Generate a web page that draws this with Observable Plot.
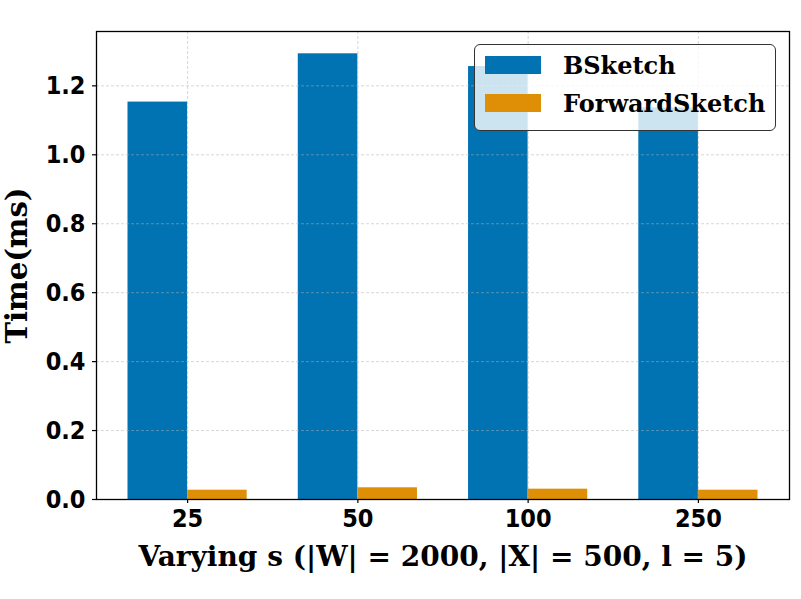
<!DOCTYPE html>
<html><head><meta charset="utf-8">
<script src="https://cdn.jsdelivr.net/npm/d3@7"></script>
<script src="https://cdn.jsdelivr.net/npm/@observablehq/plot@0.6"></script>
<style>
body{margin:0;background:#fff;}
#wrap{position:relative;width:801px;height:599px;}
.legend{position:absolute;left:474px;top:44px;width:302px;height:87px;box-sizing:border-box;border:1.3px solid #333;border-radius:6px;background:rgba(255,255,255,0.8);font-family:"DejaVu Serif",serif;font-weight:bold;font-size:24px;color:#000;}
.item{position:absolute;left:0;height:24px;}
.sw{position:absolute;left:10px;width:56px;height:18px;}
.lab{position:absolute;left:88px;white-space:nowrap;}
</style></head>
<body><div id="wrap"></div>
<script>
const categories = ["25", "50", "100", "250"];
const series = ["BSketch", "ForwardSketch"];
const bsketch = [1.153, 1.293, 1.256, 1.136];
const forwardSketch = [0.027, 0.034, 0.030, 0.027];
const colors = ["#0173b2", "#de8f05"];
const yTicks = [0, 0.2, 0.4, 0.6, 0.8, 1.0, 1.2];
const xLabel = "Varying s (|W| = 2000, |X| = 500, l = 5)";
const yLabel = "Time(ms)";

const barWidth = 0.35;
const data = [];
categories.forEach((c, i) => {
  data.push({i, c, s: series[0], v: bsketch[i], x1: i - barWidth, x2: i});
  data.push({i, c, s: series[1], v: forwardSketch[i], x1: i, x2: i + barWidth});
});
const idx = categories.map((c, i) => i);

const tickFont = {fontFamily: "'DejaVu Sans Condensed', 'DejaVu Sans', sans-serif", fontWeight: "bold", fontStretch: "condensed", fontSize: 25};

const plot = Plot.plot({
  width: 801, height: 599,
  marginLeft: 96, marginRight: 12, marginTop: 31, marginBottom: 100,
  x: {type: "linear", domain: [-0.535, 3.535]},
  y: {domain: [0, 1.3577]},
  color: {domain: series, range: colors},
  style: {background: "white", color: "black", overflow: "visible"},
  marks: [
    Plot.rectY(data, {x1: "x1", x2: "x2", y: "v", fill: "s"}),
    Plot.gridY(yTicks, {stroke: "#b0b0b0", strokeOpacity: 0.85, strokeDasharray: "3,2", strokeWidth: 0.6}),
    Plot.gridX(idx, {stroke: "#b0b0b0", strokeOpacity: 0.85, strokeDasharray: "3,2", strokeWidth: 0.6}),
    Plot.frame({stroke: "black", strokeWidth: 1.3}),
    Plot.axisX(idx, {tickFormat: i => categories[i], tickSize: 4, tickPadding: 6, label: null, ...tickFont, strokeWidth: 1.2}),
    Plot.axisY(yTicks, {tickFormat: d => d.toFixed(1), tickSize: 4, tickPadding: 7, label: null, ...tickFont, strokeWidth: 1.2}),
    Plot.text([xLabel], {frameAnchor: "bottom", textAnchor: "middle", lineAnchor: "bottom", dy: 66, fontFamily: "'DejaVu Serif', serif", fontWeight: "bold", fontSize: 28}),
    Plot.text([yLabel], {frameAnchor: "left", textAnchor: "middle", lineAnchor: "bottom", rotate: -90, dx: -70, fontFamily: "'DejaVu Serif', serif", fontWeight: "bold", fontSize: 29})
  ]
});
const wrap = document.getElementById("wrap");
wrap.appendChild(plot);

const leg = document.createElement("div");
leg.className = "legend";
series.forEach((s, k) => {
  const it = document.createElement("div");
  it.className = "item";
  it.style.top = (k === 0 ? 11 : 49) + "px";
  const sw = document.createElement("div");
  sw.className = "sw"; sw.style.background = colors[k];
  const lb = document.createElement("div");
  lb.className = "lab"; lb.textContent = s; lb.style.top = "-5px";
  it.appendChild(sw); it.appendChild(lb);
  leg.appendChild(it);
});
wrap.appendChild(leg);
</script>
</body></html>
